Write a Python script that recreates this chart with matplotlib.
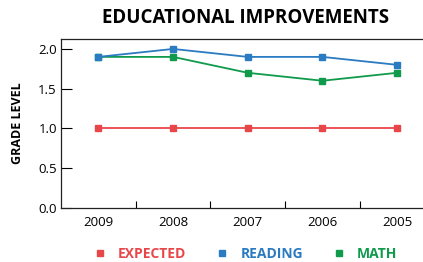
import matplotlib
matplotlib.use('Agg')
import matplotlib.pyplot as plt
from matplotlib.lines import Line2D

years = ['2009', '2008', '2007', '2006', '2005']
expected = [1.0, 1.0, 1.0, 1.0, 1.0]
reading = [1.9, 2.0, 1.9, 1.9, 1.8]
math_vals = [1.9, 1.9, 1.7, 1.6, 1.7]

c_exp = '#e8474a'
c_read = '#2a7bc1'
c_math = '#0f9a4c'

plt.rcParams['font.family'] = ['Open Sans', 'DejaVu Sans']

fig = plt.figure(figsize=(4.23, 2.62), dpi=100)
ax = fig.add_axes([61 / 423, 1 - 208 / 262, (423 - 61) / 423, (208 - 39) / 262])

x = list(range(len(years)))
ax.plot(x, expected, color=c_exp, lw=1.3, marker='s', ms=4.5)
ax.plot(x, math_vals, color=c_math, lw=1.3, marker='s', ms=4.5)
ax.plot(x, reading, color=c_read, lw=1.3, marker='s', ms=4.5)

band = 362 / 74.7
ax.set_xlim(-0.5, -0.5 + band)
ax.set_ylim(0, 2.125)
ax.set_yticks([0, 0.5, 1.0, 1.5, 2.0])
ax.set_yticklabels(['0.0', '0.5', '1.0', '1.5', '2.0'])
ax.set_xticks(x)
ax.set_xticklabels(years)
ax.set_xticks([0.5, 1.5, 2.5, 3.5], minor=True)
ax.tick_params(axis='x', which='major', length=0, pad=6, labelsize=9.5)
ax.tick_params(axis='x', which='minor', direction='in', length=5, width=0.8)
ax.tick_params(axis='y', direction='in', length=8, width=0.8, pad=3, labelsize=9.5)
for s in ['right']:
    ax.spines[s].set_visible(False)
for s in ['left', 'bottom', 'top']:
    ax.spines[s].set_linewidth(0.9)
    ax.spines[s].set_color('#222222')

ax.set_ylabel('GRADE LEVEL', fontweight='bold', fontsize=9, labelpad=10)

fig.text(246 / 423, 1 - 18 / 262, 'EDUCATIONAL IMPROVEMENTS', ha='center', va='center',
         fontsize=13.5, fontweight='bold')

handles = [Line2D([], [], ls='none', marker='s', ms=5, color=c) for c in (c_exp, c_read, c_math)]
leg = fig.legend(handles, ['EXPECTED', 'READING', 'MATH'], loc='center', ncol=3,
                 bbox_to_anchor=(246 / 423, 1 - 254 / 262), frameon=False,
                 handlelength=0.8, handletextpad=0.9, columnspacing=2.2,
                 prop={'weight': 'bold', 'size': 10})
for t, c in zip(leg.get_texts(), (c_exp, c_read, c_math)):
    t.set_color(c)

fig.savefig('out.png', dpi=100)
